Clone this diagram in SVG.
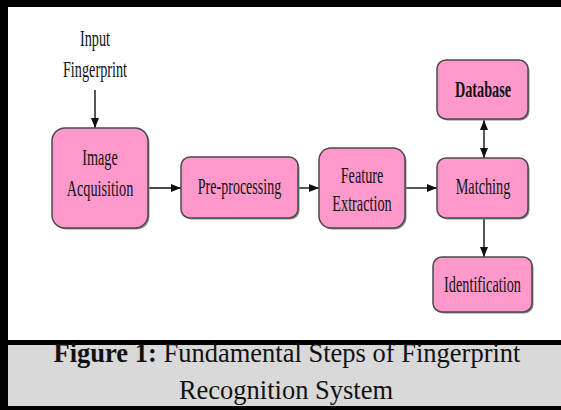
<svg xmlns="http://www.w3.org/2000/svg" width="561" height="410" viewBox="0 0 561 410">
<style>
.box{fill:#ff99cc;stroke:#4a4a4a;stroke-width:1.5}
.sh{fill:#8a8a8a;stroke:none}
.t{font-family:"Liberation Serif","Times New Roman",serif;font-size:23px;fill:#111;text-anchor:middle}
.b{font-weight:bold}
.c{stroke:#111;stroke-width:1.4;fill:none}
.cap{font-family:"Liberation Serif","Times New Roman",serif;font-size:26.5px;fill:#111;text-anchor:middle}
</style>
<defs>
<marker id="ah" markerUnits="userSpaceOnUse" markerWidth="10" markerHeight="10" viewBox="0 0 10 10" refX="10" refY="5" orient="auto">
<path d="M0,1 L10,5 L0,9 Z" fill="#111"/>
</marker>
<marker id="as" markerUnits="userSpaceOnUse" markerWidth="10" markerHeight="10" viewBox="0 0 10 10" refX="10" refY="5" orient="auto-start-reverse">
<path d="M0,1 L10,5 L0,9 Z" fill="#111"/>
</marker>
</defs>
<rect x="0" y="0" width="561" height="410" fill="#ffffff"/>
<g id="frame">
<rect x="0" y="0" width="561" height="7" fill="#000"/>
<rect x="0" y="0" width="8" height="410" fill="#000"/>
<rect x="8" y="345" width="553" height="61" fill="#d9d9d9"/>
<rect x="0" y="340" width="561" height="5" fill="#000"/>
<rect x="0" y="406" width="561" height="4" fill="#000"/>
</g>
<g id="input-label">
<text class="t" transform="translate(95 46) scale(0.62 1)">Input</text>
<text class="t" transform="translate(95 77) scale(0.62 1)">Fingerprint</text>
</g>
<g id="connectors">
<line class="c" x1="95" y1="90" x2="95" y2="128" marker-end="url(#ah)"/>
<line class="c" x1="148" y1="188" x2="181" y2="188" marker-end="url(#ah)"/>
<line class="c" x1="298" y1="188" x2="319" y2="188" marker-end="url(#ah)"/>
<line class="c" x1="405" y1="188" x2="437" y2="188" marker-end="url(#ah)"/>
<line class="c" x1="484" y1="120" x2="484" y2="158" marker-start="url(#as)" marker-end="url(#as)"/>
<line class="c" x1="484" y1="218" x2="484" y2="257" marker-end="url(#ah)"/>
</g>
<g id="image-acquisition">
<rect class="sh" x="53.5" y="129.5" width="96" height="100" rx="13"/>
<rect class="box" x="52" y="128" width="96" height="100" rx="13"/>
<text class="t" transform="translate(100 165) scale(0.62 1)">Image</text>
<text class="t" transform="translate(100 196) scale(0.62 1)">Acquisition</text>
</g>
<g id="pre-processing">
<rect class="sh" x="182.5" y="158.5" width="117" height="61" rx="9"/>
<rect class="box" x="181" y="157" width="117" height="61" rx="9"/>
<text class="t" transform="translate(239.5 194) scale(0.61 1)">Pre-processing</text>
</g>
<g id="feature-extraction">
<rect class="sh" x="320.5" y="149.5" width="86" height="80" rx="12"/>
<rect class="box" x="319" y="148" width="86" height="80" rx="12"/>
<text class="t" transform="translate(362 183) scale(0.62 1)">Feature</text>
<text class="t" transform="translate(362 211) scale(0.62 1)">Extraction</text>
</g>
<g id="matching">
<rect class="sh" x="438.5" y="159.5" width="91" height="60" rx="9"/>
<rect class="box" x="437" y="158" width="91" height="60" rx="9"/>
<text class="t" transform="translate(483 194) scale(0.62 1)">Matching</text>
</g>
<g id="database">
<rect class="sh" x="438.5" y="61.5" width="91" height="59" rx="9"/>
<rect class="box" x="437" y="60" width="91" height="59" rx="9"/>
<text class="t b" transform="translate(483 97) scale(0.62 1)">Database</text>
</g>
<g id="identification">
<rect class="sh" x="434.5" y="258.5" width="99" height="55" rx="9"/>
<rect class="box" x="433" y="257" width="99" height="55" rx="9"/>
<text class="t" transform="translate(482.5 292) scale(0.62 1)">Identification</text>
</g>
<g id="caption">
<text class="cap" x="287" y="362"><tspan font-weight="bold">Figure 1:</tspan> Fundamental Steps of Fingerprint</text>
<text class="cap" x="286" y="399">Recognition System</text>
</g>
</svg>
